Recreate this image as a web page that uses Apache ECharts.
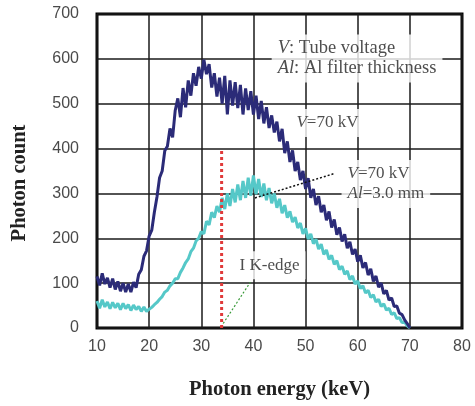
<!DOCTYPE html>
<html>
<head>
<meta charset="utf-8">
<script src="https://cdn.jsdelivr.net/npm/echarts@6/dist/echarts.min.js"></script>
<style>
    html, body { margin: 0; padding: 0; background: #fff; }
    #chart { width: 475px; height: 406px; }
</style>
</head>
<body>
<div id="chart"></div>
<script>
// spectra sampled every 0.5 keV from 10 keV to 70 keV
var energyStart = 10;
var energyStep = 0.5;

// V = 70 kV, no filter
var countsV70 = [
    115, 95, 122, 98, 112, 90, 110, 86, 104, 82,
    100, 80, 98, 80, 102, 90, 120, 130, 160, 172,
    205, 218, 258, 292, 335, 350, 395, 405, 445, 425,
    485, 512, 470, 535, 492, 552, 518, 568, 540, 582,
    556, 598, 566, 588, 536, 568, 516, 558, 500, 562,
    476, 552, 496, 548, 490, 542, 476, 534, 486, 528,
    476, 518, 466, 506, 456, 492, 446, 474, 436, 460,
    416, 444, 390, 416, 370, 396, 350, 370, 330, 350,
    310, 334, 290, 310, 274, 294, 258, 274, 240, 260,
    224, 242, 208, 224, 193, 209, 178, 192, 164, 176,
    148, 162, 134, 146, 118, 132, 104, 116, 91, 100,
    76, 84, 62, 67, 48, 49, 33, 30, 18, 10,
    0
];

// V = 70 kV, Al = 3.0 mm
var countsV70Al3 = [
    60, 44, 63, 47, 58, 43, 57, 45, 55, 41,
    55, 43, 52, 39, 51, 41, 48, 37, 47, 37,
    42, 46, 52, 57, 64, 70, 80, 84, 94, 100,
    110, 110, 124, 134, 146, 154, 170, 178, 194, 200,
    215, 210, 238, 230, 258, 246, 272, 258, 290, 265,
    300, 272, 310, 280, 320, 285, 328, 290, 335, 295,
    340, 298, 332, 292, 322, 285, 312, 278, 300, 268,
    288, 256, 274, 246, 260, 236, 247, 223, 234, 210,
    222, 198, 210, 188, 198, 176, 187, 164, 174, 153,
    162, 142, 150, 130, 138, 120, 127, 108, 116, 98,
    105, 88, 94, 78, 84, 68, 74, 58, 64, 48,
    54, 40, 44, 30, 34, 21, 23, 12, 13, 5,
    0
];

var xTicks = [10, 20, 30, 40, 50, 60, 70, 80];
var yTicks = [0, 100, 200, 300, 400, 500, 600, 700];

// iodine K-edge marker and pointer lines (keV, count)
var kEdgeLine = [[33.9, 0], [33.9, 400]];
var kEdgePointer = [[34.2, 10], [39.4, 102]];
var filterPointer = [[40.3, 290], [55.7, 345]];

// text notes (keV, count at the left edge / middle of the box)
var notes = [
    {
        value: [43.5, 601], name: '{i|V}: Tube voltage\n{i|Al}: Al filter thickness',
        label: { fontSize: 18.5, rich: { i: { fontSize: 18.5 } } }
    },
    { value: [47.1, 457], name: '{i|V}=70 kV' },
    { value: [56.9, 321], name: '{i|V}=70 kV\n{i|Al}=3.0 mm' },
    { value: [36.2, 140], name: 'I K-edge' }
];

function toPoints(counts) {
    var pts = [];
    for (var i = 0; i < counts.length; i++) {
        pts.push([energyStart + i * energyStep, counts[i]]);
    }
    return pts;
}

var chart = echarts.init(document.getElementById('chart'), null, { renderer: 'canvas' });

var option = {
    animation: false,
    backgroundColor: '#fff',
    grid: {
        left: 97, top: 14, right: 13, bottom: 78,
        show: true, borderColor: '#000', borderWidth: 3
    },
    xAxis: {
        type: 'value',
        min: xTicks[0], max: xTicks[xTicks.length - 1], interval: 10,
        name: 'Photon energy (keV)',
        nameLocation: 'middle',
        nameGap: 51,
        nameTextStyle: { fontFamily: 'Liberation Serif', fontWeight: 'bold', fontSize: 20.5, color: '#222' },
        axisLine: { show: false },
        axisTick: { show: false },
        axisLabel: { margin: 11, fontFamily: 'Liberation Sans', fontSize: 16, color: '#4a4a4a' },
        splitLine: { show: true, lineStyle: { color: '#1a1a1a', width: 1.5 } }
    },
    yAxis: {
        type: 'value',
        min: yTicks[0], max: yTicks[yTicks.length - 1], interval: 100,
        name: 'Photon count',
        nameLocation: 'middle',
        nameGap: 67,
        nameTextStyle: {
            fontFamily: 'Liberation Serif', fontWeight: 'bold', fontSize: 20.5, color: '#222',
            padding: [0, 24, 0, 0]
        },
        axisLine: { show: false },
        axisTick: { show: false },
        axisLabel: { margin: 18, fontFamily: 'Liberation Sans', fontSize: 16, color: '#4a4a4a' },
        splitLine: { show: true, lineStyle: { color: '#1a1a1a', width: 1.5 } }
    },
    series: [
        {
            name: 'notes',
            type: 'scatter',
            z: 1,
            symbolSize: 0,
            data: notes,
            label: {
                show: true,
                position: 'right',
                distance: 0,
                formatter: function (p) { return p.name; },
                fontFamily: 'Liberation Serif',
                fontSize: 17,
                lineHeight: 20,
                color: '#222',
                backgroundColor: '#fff',
                padding: [4, 6],
                rich: {
                    i: { fontFamily: 'Liberation Serif', fontStyle: 'italic', fontSize: 17, lineHeight: 20, color: '#222' }
                }
            }
        },
        {
            name: 'V=70 kV, Al=3.0 mm',
            type: 'line',
            z: 3,
            showSymbol: false,
            data: toPoints(countsV70Al3),
            lineStyle: { color: '#55c8c8', width: 3 }
        },
        {
            name: 'V=70 kV',
            type: 'line',
            z: 4,
            showSymbol: false,
            data: toPoints(countsV70),
            lineStyle: { color: '#2b2b78', width: 3 }
        },
        {
            name: 'K-edge',
            type: 'line',
            z: 5,
            showSymbol: false,
            data: kEdgeLine,
            lineStyle: { color: '#e03a3a', width: 3, type: [3, 3] }
        },
        {
            name: 'K-edge pointer',
            type: 'line',
            z: 5,
            showSymbol: false,
            data: kEdgePointer,
            lineStyle: { color: '#3a9a3a', width: 1.2, type: [2, 2] }
        },
        {
            name: 'filter pointer',
            type: 'line',
            z: 5,
            showSymbol: false,
            data: filterPointer,
            lineStyle: { color: '#111', width: 1.5, type: [2, 2] }
        }
    ]
};

chart.setOption(option);
</script>
</body>
</html>
